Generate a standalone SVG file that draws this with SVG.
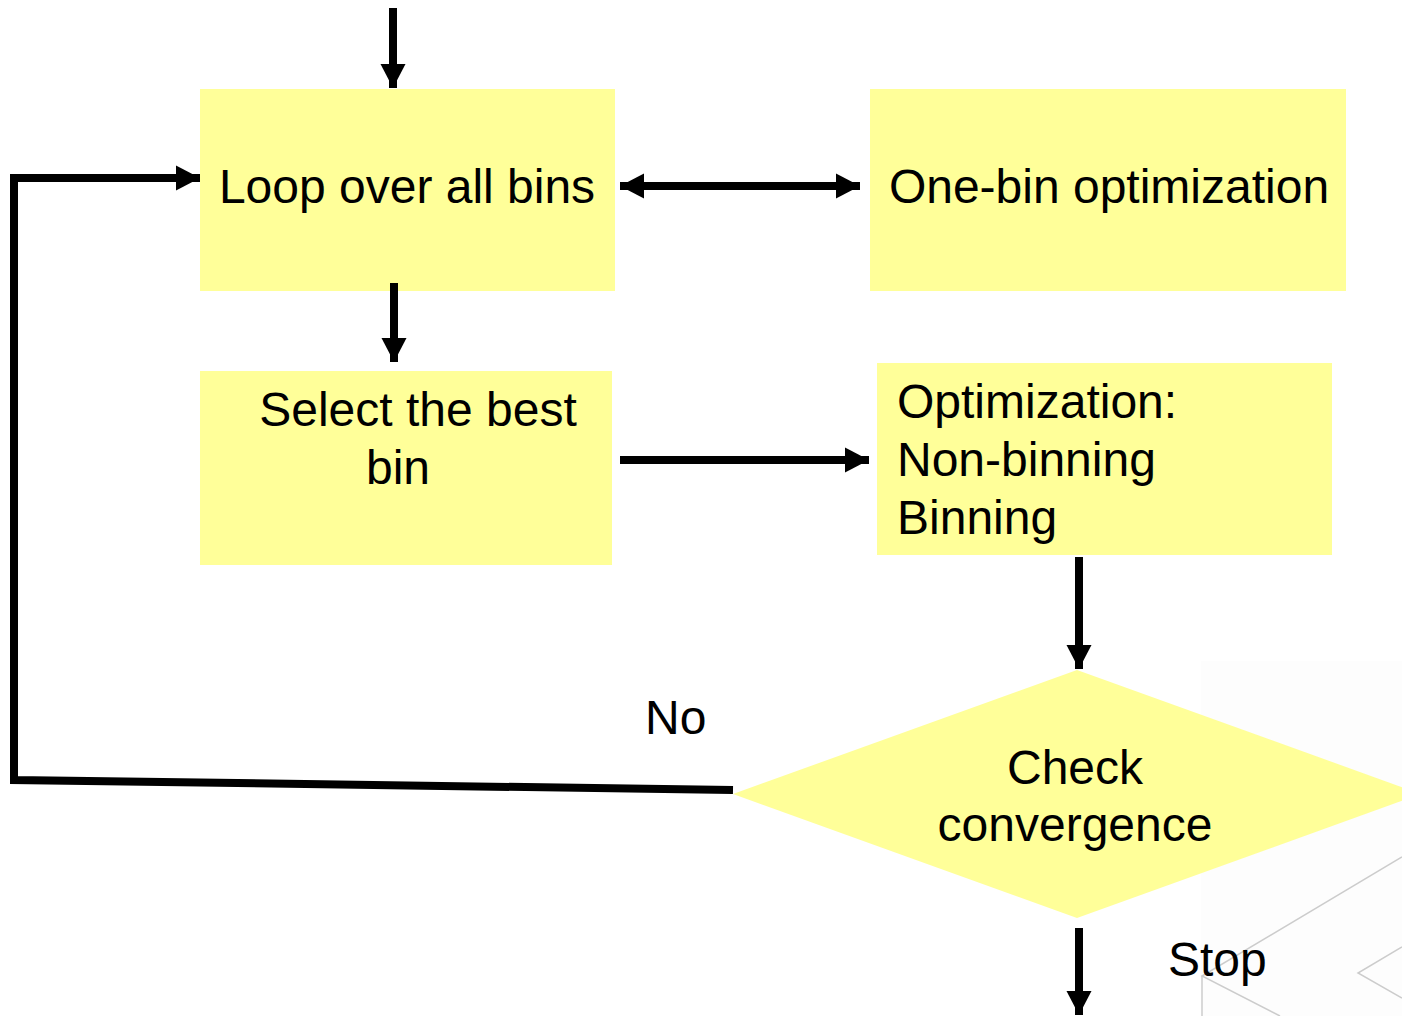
<svg xmlns="http://www.w3.org/2000/svg" width="1402" height="1016" viewBox="0 0 1402 1016">
  <defs>
    <marker id="head" markerUnits="userSpaceOnUse" markerWidth="28" markerHeight="28" refX="24" refY="13" orient="auto-start-reverse">
      <path d="M0,0.5 L24,13 L0,25.5 Z" fill="#000"/>
    </marker>
    <style>
      .box { fill: #ffff99; }
      .lbl { font-family: "Liberation Sans", Arial, sans-serif; font-size: 48px; fill: #000; }
      .mid { text-anchor: middle; }
      .edge { stroke: #000; stroke-width: 8; fill: none; }
      .arrow { marker-end: url(#head); }
      .deco { stroke: #cccccc; stroke-width: 1.5; fill: none; }
    </style>
  </defs>

  <rect width="1402" height="1016" fill="#ffffff"/>

  <!-- faint backdrop ornament, lower right -->
  <g id="backdrop">
    <rect x="1201" y="661" width="201" height="355" fill="#fdfdfd"/>
    <polyline class="deco" points="1402,857 1202,976 1280,1016"/>
    <line class="deco" x1="1202" y1="976" x2="1202" y2="1016"/>
    <polyline class="deco" points="1402,947 1358,973 1402,998"/>
  </g>

  <g id="node-loop">
    <rect class="box" x="200" y="89" width="415" height="202"/>
    <text class="lbl mid" x="407" y="203">Loop over all bins</text>
  </g>

  <g id="node-onebin">
    <rect class="box" x="870" y="89" width="476" height="202"/>
    <text class="lbl mid" x="1109" y="203">One-bin optimization</text>
  </g>

  <g id="node-select">
    <rect class="box" x="200" y="371" width="412" height="194"/>
    <text class="lbl mid" x="418" y="426">Select the best</text>
    <text class="lbl mid" x="398" y="484">bin</text>
  </g>

  <g id="node-optimization">
    <rect class="box" x="877" y="363" width="455" height="192"/>
    <text class="lbl" x="897" y="418">Optimization:</text>
    <text class="lbl" x="897" y="476">Non-binning</text>
    <text class="lbl" x="897" y="534">Binning</text>
  </g>

  <g id="node-check">
    <polygon class="box" points="1077,670 1421,794 1077,918 733,794"/>
    <text class="lbl mid" x="1075" y="784">Check</text>
    <text class="lbl mid" x="1075" y="841">convergence</text>
  </g>

  <g id="connectors">
    <line class="edge arrow" x1="393" y1="8" x2="393" y2="88"/>
    <line class="edge arrow" x1="620" y1="186" x2="860" y2="186" marker-start="url(#head)"/>
    <line class="edge arrow" x1="394" y1="283" x2="394" y2="362"/>
    <line class="edge arrow" x1="620" y1="460" x2="869" y2="460"/>
    <line class="edge arrow" x1="1079" y1="557" x2="1079" y2="669"/>
    <polyline class="edge arrow" points="733,790 14,780 14,178 200,178"/>
    <line class="edge arrow" x1="1079" y1="928" x2="1079" y2="1015"/>
    <text class="lbl" x="645" y="734">No</text>
    <text class="lbl" x="1168" y="976">Stop</text>
  </g>
</svg>
